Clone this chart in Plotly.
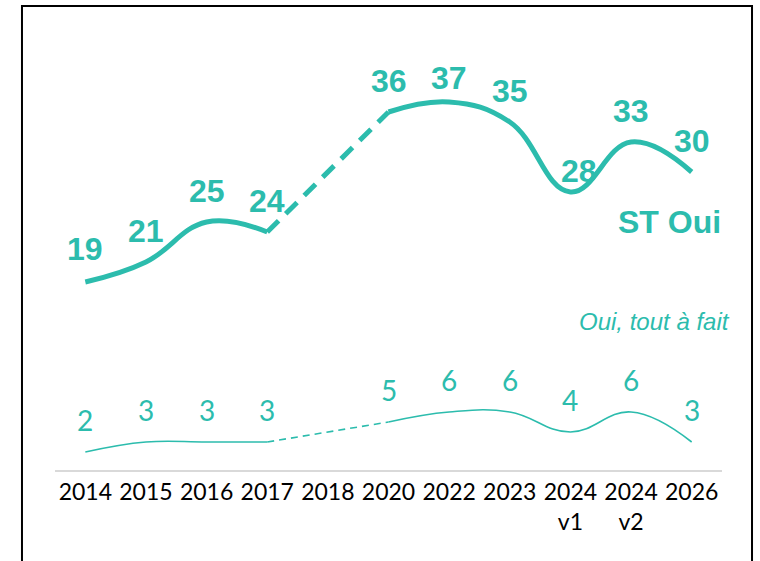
import plotly.graph_objects as go

# =============================================================================
# DATA
# =============================================================================

CATEGORIES = ["2014", "2015", "2016", "2017", "2018", "2020",
              "2022", "2023", "2024<br>v1", "2024<br>v2", "2026"]

ST_OUI = [19, 21, 25, 24, None, 36, 37, 35, 28, 33, 30]
OUI_TOUT_A_FAIT = [2, 3, 3, 3, None, 5, 6, 6, 4, 6, 3]

# =============================================================================
# STYLE
# =============================================================================

TEAL = "#2CBCAD"
BOLD_FONT = "Arial"
THIN_FONT = "Lato"

X = list(range(len(CATEGORIES)))

# the gap year (2018) sits between these two indices and is drawn dashed
GAP_FROM, GAP_TO = 3, 5

# label offsets (px above the point), a few nudged to avoid the curve
LABEL_SHIFT = {"2014": 33, "2022": 24, "2024<br>v1": 21}


def add_series(fig, values, width, dash):
    """Solid - dashed - solid line for one series."""
    parts = [
        (X[:GAP_FROM + 1], values[:GAP_FROM + 1], "solid"),
        ([X[GAP_FROM], X[GAP_TO]], [values[GAP_FROM], values[GAP_TO]], dash),
        (X[GAP_TO:], values[GAP_TO:], "solid"),
    ]
    for xs, ys, d in parts:
        fig.add_trace(go.Scatter(
            x=xs,
            y=ys,
            mode="lines",
            line=dict(color=TEAL, width=width, dash=d, shape="spline", smoothing=1.2),
            hoverinfo="skip",
            showlegend=False,
        ))


fig = go.Figure()

add_series(fig, ST_OUI, 5, "16px,10px")
add_series(fig, OUI_TOUT_A_FAIT, 1.6, "7px,5px")

# value labels
for i, v in zip(X, ST_OUI):
    if v is None:
        continue
    cat = CATEGORIES[i]
    fig.add_annotation(
        x=i, y=v, text=f"<b>{v}</b>", showarrow=False,
        yshift=LABEL_SHIFT.get(cat, 31),
        xshift=9 if cat == "2024<br>v1" else 0,
        yanchor="middle",
        font=dict(family=BOLD_FONT, size=32, color=TEAL),
    )

for i, v in zip(X, OUI_TOUT_A_FAIT):
    if v is None:
        continue
    fig.add_annotation(
        x=i, y=v, text=str(v), showarrow=False,
        yshift=32, yanchor="middle",
        font=dict(family=THIN_FONT, size=28, color=TEAL),
    )

# series names
fig.add_annotation(
    xref="paper", yref="paper", x=1.0015, y=0.551,
    text="<b>ST Oui</b>", showarrow=False,
    xanchor="right", yanchor="middle",
    font=dict(family=BOLD_FONT, size=32, color=TEAL),
)
fig.add_annotation(
    xref="paper", yref="paper", x=1.015, y=0.329,
    text="<i>Oui, tout à fait</i>", showarrow=False,
    xanchor="right", yanchor="middle",
    font=dict(family=BOLD_FONT, size=24, color=TEAL),
)

# outer frame
fig.add_shape(
    type="rect", xref="paper", yref="paper",
    x0=-0.0495, x1=1.045, y0=-0.25, y1=1.031,
    line=dict(color="black", width=2),
)

fig.update_layout(
    width=760,
    height=561,
    template="plotly_white",
    plot_bgcolor="white",
    paper_bgcolor="white",
    margin=dict(l=55, r=38, t=20, b=91),
    showlegend=False,
    xaxis=dict(
        range=[-0.5, len(CATEGORIES) - 0.5],
        tickmode="array",
        tickvals=X,
        ticktext=CATEGORIES,
        showgrid=False,
        zeroline=False,
        showline=True,
        linecolor="#D9D9D9",
        linewidth=2,
        ticks="",
        tickfont=dict(family=THIN_FONT, size=23, color="black"),
    ),
    yaxis=dict(
        range=[0.2, 45.2],
        visible=False,
        showgrid=False,
        zeroline=False,
    ),
)

# drop the browser's default page margin so the figure sits at (0, 0)
fig.write_html(
    "out.html",
    config={"displayModeBar": False},
    post_script="document.body.style.margin='0px';",
)
